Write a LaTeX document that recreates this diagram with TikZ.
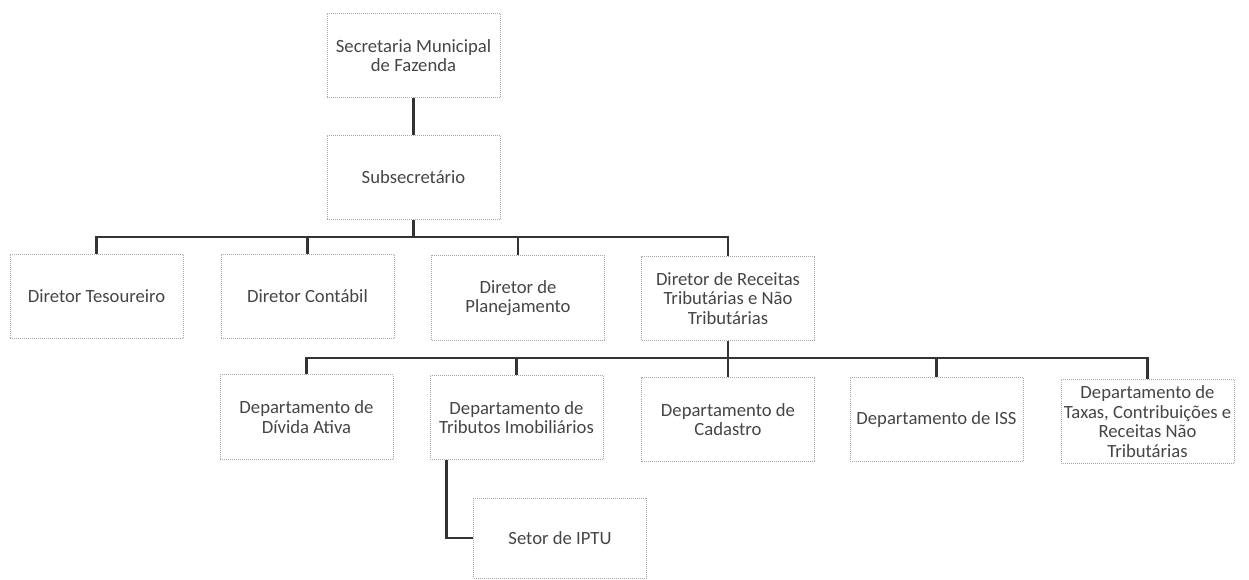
\documentclass[tikz,border=0pt]{standalone}
\usepackage{fontspec}
\setmainfont{Carlito}
\definecolor{txt}{HTML}{454545}
\definecolor{ln}{HTML}{333333}
\definecolor{bd}{HTML}{A8A8A8}
\begin{document}
\begin{tikzpicture}[x=0.75pt,y=-0.75pt,
  box/.style={draw=bd, densely dotted, line width=0.5pt, minimum width=129.75pt, minimum height=63.5pt,
    inner sep=1pt, align=center, text=txt, font=\fontsize{14}{14.8}\selectfont},
  conn/.style={draw=ln, line width=1.9pt}]
\useasboundingbox (0,0) rectangle (1249,580);
\node[box] (sec) at (413.5,55.5) {Secretaria Municipal\\de Fazenda};
\node[box] (sub) at (413.5,177.5) {Subsecretário};
\node[box] (tes) at (96.5,296.5) {Diretor Tesoureiro};
\node[box] (con) at (307.5,296.5) {Diretor Contábil};
\node[box] (pla) at (518,298) {Diretor de\\Planejamento};
\node[box] (rec) at (728,298.5) {Diretor de Receitas\\Tributárias e Não\\Tributárias};
\node[box] (div) at (306.5,417) {Departamento de\\Dívida Ativa};
\node[box] (tri) at (516.5,417.5) {Departamento de\\Tributos Imobiliários};
\node[box] (cad) at (728,419.5) {Departamento de\\Cadastro};
\node[box] (iss) at (936.5,419.5) {Departamento de ISS};
\node[box] (tax) at (1147.5,421.5) {Departamento de\\Taxas, Contribuições e\\Receitas Não\\Tributárias};
\node[box, minimum height=60pt] (ipt) at (560,538) {Setor de IPTU};
\coordinate (b1) at (0,237);
\coordinate (b2) at (0,358);
\draw[conn] (sec.south) -- (sub.north);
\draw[conn] (sub.south) -- (sub.south |- b1);
\draw[conn] (tes.north) -- (tes.north |- b1) -- (rec.north |- b1) -- (rec.north);
\draw[conn] (con.north) -- (con.north |- b1);
\draw[conn] (pla.north) -- (pla.north |- b1);
\draw[conn] (rec.south) -- (cad.north);
\draw[conn] (div.north) -- (div.north |- b2) -- (tax.north |- b2) -- (tax.north);
\draw[conn] (tri.north) -- (tri.north |- b2);
\draw[conn] (iss.north) -- (iss.north |- b2);
\draw[conn] ([xshift=12.75pt]tri.south west) |- (ipt.west);
\end{tikzpicture}
\end{document}
